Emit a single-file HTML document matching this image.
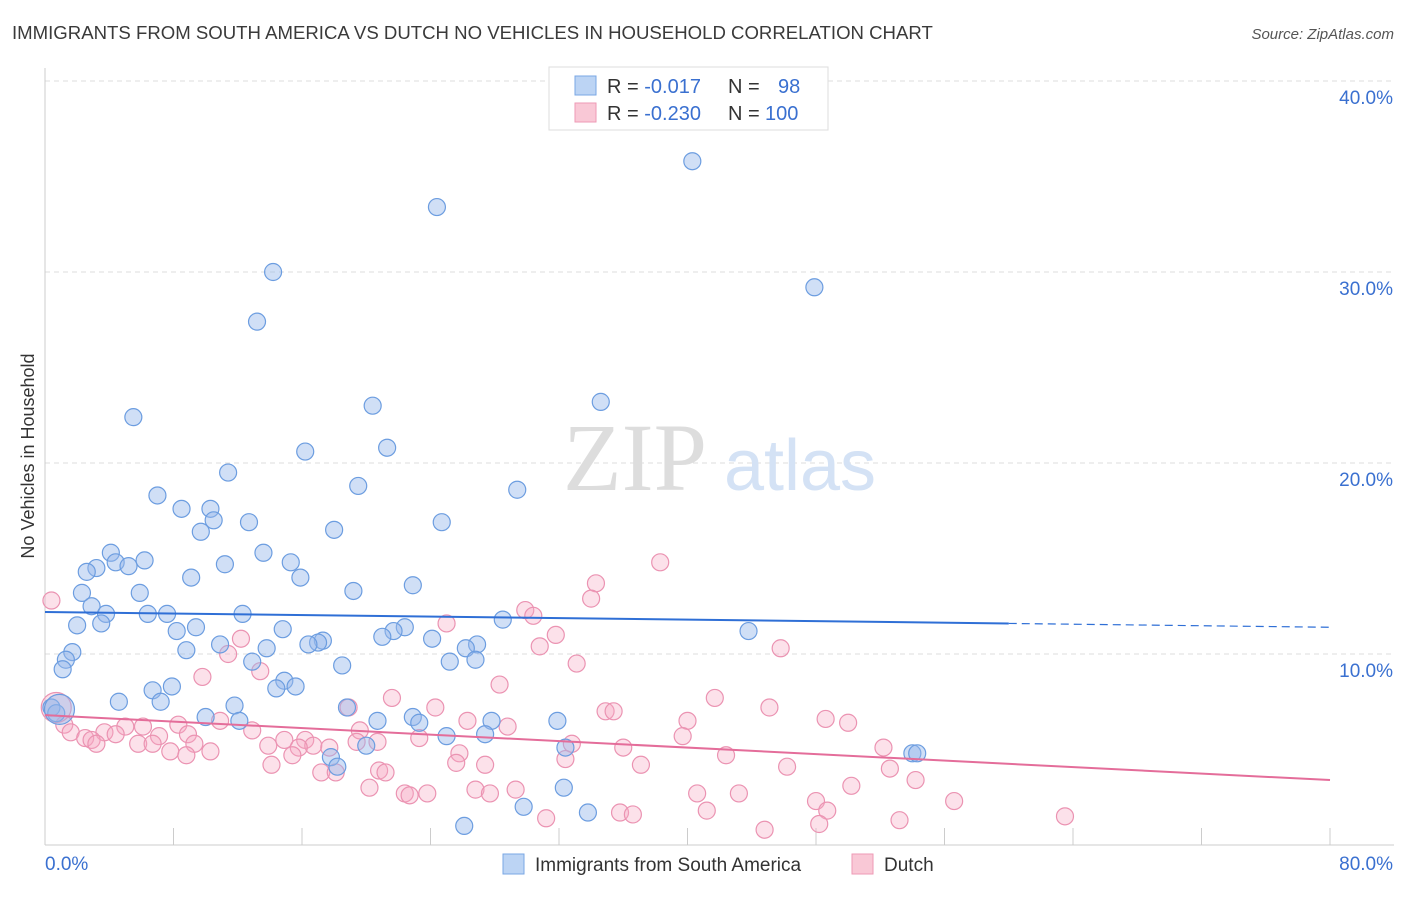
<!DOCTYPE html>
<html><head><meta charset="utf-8"><style>
body{margin:0;background:#fff;font-family:"Liberation Sans",sans-serif}
</style></head><body>
<svg width="1406" height="892" xmlns="http://www.w3.org/2000/svg" font-family="Liberation Sans, sans-serif">
<text x="12" y="39" font-size="18.6" fill="#3a3a3a">IMMIGRANTS FROM SOUTH AMERICA VS DUTCH NO VEHICLES IN HOUSEHOLD CORRELATION CHART</text>
<text x="1394" y="39" font-size="15" fill="#555" font-style="italic" text-anchor="end">Source: ZipAtlas.com</text>
<g id="grid"></g>
<g>
<text x="635" y="490" font-size="96" fill="#ddd" font-family="Liberation Serif, serif" text-anchor="middle">ZIP</text>
<text x="800" y="490" font-size="72" fill="#d4e2f5" text-anchor="middle">atlas</text>
</g>
<text transform="translate(34,456) rotate(-90)" font-size="18" fill="#333" text-anchor="middle">No Vehicles in Household</text>
<g id="marks"></g>
<g>
<rect x="549" y="67" width="279" height="63" fill="#fff" stroke="#ddd"/>
<rect x="575" y="76" width="21" height="19" fill="#bcd4f4" stroke="#7aa7e4"/>
<rect x="575" y="103" width="21" height="19" fill="#f9c8d6" stroke="#ee9ab5"/>
<text x="607" y="93" font-size="20" fill="#333">R = <tspan fill="#3a70d0">-0.017</tspan><tspan x="728">N = </tspan><tspan x="778" fill="#3a70d0">98</tspan></text>
<text x="607" y="120" font-size="20" fill="#333">R = <tspan fill="#3a70d0">-0.230</tspan><tspan x="728">N = </tspan><tspan x="765" fill="#3a70d0">100</tspan></text>
</g>
<g>
<rect x="503" y="854" width="21" height="20" fill="#bcd4f4" stroke="#7aa7e4"/>
<text x="535" y="871" font-size="19" fill="#333">Immigrants from South America</text>
<rect x="852" y="854" width="21" height="20" fill="#f9c8d6" stroke="#ee9ab5"/>
<text x="884" y="871" font-size="19" fill="#333">Dutch</text>
</g>
</svg>
<script>
const yTicks=[10,20,30,40];
const yTickLabels=["10.0%","20.0%","30.0%","40.0%"];
const xTickLabels=["0.0%","80.0%"];
const blueX=[40.3,24.4,14.2,47.9,13.2,34.6,5.5,20.4,21.3,16.2,11.4,19.5,29.4,7.0,8.5,10.3,10.5,12.7,18.0,24.7,9.7,4.1,13.6,6.2,4.4,15.3,11.2,3.2,2.6,5.2,9.1,15.9,22.9,19.2,2.3,5.9,2.9,3.8,6.4,7.6,12.3,3.5,2.0,28.5,9.4,8.2,14.8,22.4,21.7,21.0,24.1,43.8,17.3,17.0,16.4,10.9,13.8,26.9,26.2,8.8,1.7,1.3,12.9,26.8,25.2,18.5,1.1,14.9,7.9,15.6,14.4,6.7,7.2,4.6,11.8,18.8,0.4,0.7,10.0,12.1,20.7,22.9,27.8,31.9,23.3,25.0,27.4,20.0,32.4,54.0,54.3,17.8,18.2,32.3,29.8,33.8,26.1,0.9];
const blueY=[35.8,33.4,30.0,29.2,27.4,23.2,22.4,23.0,20.8,20.6,19.5,18.8,18.6,18.3,17.6,17.6,17.0,16.9,16.5,16.9,16.4,15.3,15.3,14.9,14.8,14.8,14.7,14.5,14.3,14.6,14.0,14.0,13.6,13.3,13.2,13.2,12.5,12.1,12.1,12.1,12.1,11.6,11.5,11.8,11.4,11.2,11.3,11.4,11.2,10.9,10.8,11.2,10.7,10.6,10.5,10.5,10.3,10.5,10.3,10.2,10.1,9.7,9.6,9.7,9.6,9.4,9.2,8.6,8.3,8.3,8.2,8.1,7.5,7.5,7.3,7.2,7.2,6.9,6.7,6.5,6.5,6.7,6.5,6.5,6.4,5.7,5.8,5.2,5.1,4.8,4.8,4.6,4.1,3.0,2.0,1.7,1.0,7.1];
const pinkX=[38.3,34.3,34.0,29.9,30.4,25.0,31.8,12.2,30.8,45.8,11.4,33.1,13.4,9.8,28.3,21.6,41.7,24.3,34.9,35.4,18.9,45.1,48.6,40.0,50.0,26.3,28.8,10.9,8.3,5.0,1.2,6.1,19.6,1.6,3.7,4.4,12.9,7.1,8.9,39.7,23.3,2.5,2.9,16.2,19.4,20.7,14.9,32.8,5.8,6.7,3.2,16.7,9.3,13.9,15.8,17.7,36.0,52.2,7.8,10.3,8.8,25.8,15.4,42.4,32.4,25.6,27.4,14.1,37.1,46.2,52.6,17.2,20.8,21.2,18.1,54.2,50.2,20.2,29.3,26.8,27.7,40.6,43.2,22.4,23.8,22.7,56.6,48.0,48.7,41.2,35.8,36.6,63.5,53.2,31.2,48.2,44.8,0.4,0.7];
const pinkY=[14.8,13.7,12.9,12.3,12.0,11.6,11.0,10.8,10.4,10.3,10.0,9.5,9.1,8.8,8.4,7.7,7.7,7.2,7.0,7.0,7.2,7.2,6.6,6.5,6.4,6.5,6.2,6.5,6.3,6.2,6.3,6.2,6.0,5.9,5.9,5.8,6.0,5.7,5.8,5.7,5.6,5.6,5.5,5.5,5.4,5.4,5.5,5.3,5.3,5.3,5.3,5.2,5.3,5.2,5.1,5.1,5.1,5.1,4.9,4.9,4.7,4.8,4.7,4.7,4.5,4.3,4.2,4.2,4.2,4.1,4.0,3.8,3.9,3.8,3.8,3.4,3.1,3.0,2.9,2.9,2.7,2.7,2.7,2.7,2.7,2.6,2.3,2.3,1.8,1.8,1.7,1.6,1.5,1.3,1.4,1.1,0.8,12.8,7.2];
const blueBig=[97];
const pinkBig=[98,99];
const blueTrend=[12.2,11.6,11.4]; // at x=0, 60, 80
const pinkTrend=[6.8,3.4]; // at x=0, 80
const X=v=>45+v/80*1285, Y=v=>845-v/10*191;
const NS="http://www.w3.org/2000/svg";
function mk(t,a,p){const e=document.createElementNS(NS,t);for(const k in a)e.setAttribute(k,a[k]);p.appendChild(e);return e;}
const grid=document.getElementById('grid'), marks=document.getElementById('marks');
yTicks.forEach((t,i)=>{
 const g=mk('line',{x1:45,x2:1394,y1:Y(t),y2:Y(t),stroke:'#ddd','stroke-dasharray':'5,4'},grid);
 
 
 const l=mk('text',{x:1393,y:Y(t)+23,'font-size':19,fill:'#3a70d0','text-anchor':'end'},grid);
 l.textContent=yTickLabels[i];
 
 
});
const ax=mk('line',{x1:45,x2:1394,y1:845,y2:845,stroke:'#ccc'},grid);


const ay=mk('line',{x1:45,x2:45,y1:68,y2:845,stroke:'#ccc'},grid);


for(let i=1;i<=10;i++){const t=mk('line',{x1:X(i*8),x2:X(i*8),y1:828,y2:845,stroke:'#ccc'},grid);
 
 }
[[0,'start',45],[1,'end',1393]].forEach(([i,a,x])=>{const l=mk('text',{x:x,y:870,'font-size':19,fill:'#3a70d0','text-anchor':a},grid);l.textContent=xTickLabels[i];
 
 });
function dots(xs,ys,bigs,fill,stroke,name){xs.forEach((x,i)=>{const big=bigs.includes(i);
 const c=mk('circle',{cx:X(x),cy:Y(ys[i]),r:big?15:8.5,fill:fill,stroke:stroke,'stroke-width':1.2},marks);
 
 });}
dots(pinkX,pinkY,pinkBig,'rgba(245,170,195,0.35)','#eb93b2','dutch-point');
dots(blueX,blueY,blueBig,'rgba(150,185,235,0.45)','#6c9de0','south-america-point');
let l1=mk('line',{x1:X(0),y1:Y(blueTrend[0]),x2:X(60),y2:Y(blueTrend[1]),stroke:'#2f6fd6','stroke-width':2},marks);


let l2=mk('line',{x1:X(60),y1:Y(blueTrend[1]),x2:X(80),y2:Y(blueTrend[2]),stroke:'#2f6fd6','stroke-width':1.2,'stroke-dasharray':'8,5'},marks);


let l3=mk('line',{x1:X(0),y1:Y(pinkTrend[0]),x2:X(80),y2:Y(pinkTrend[1]),stroke:'#e46d9a','stroke-width':2},marks);


</script>
</body></html>
